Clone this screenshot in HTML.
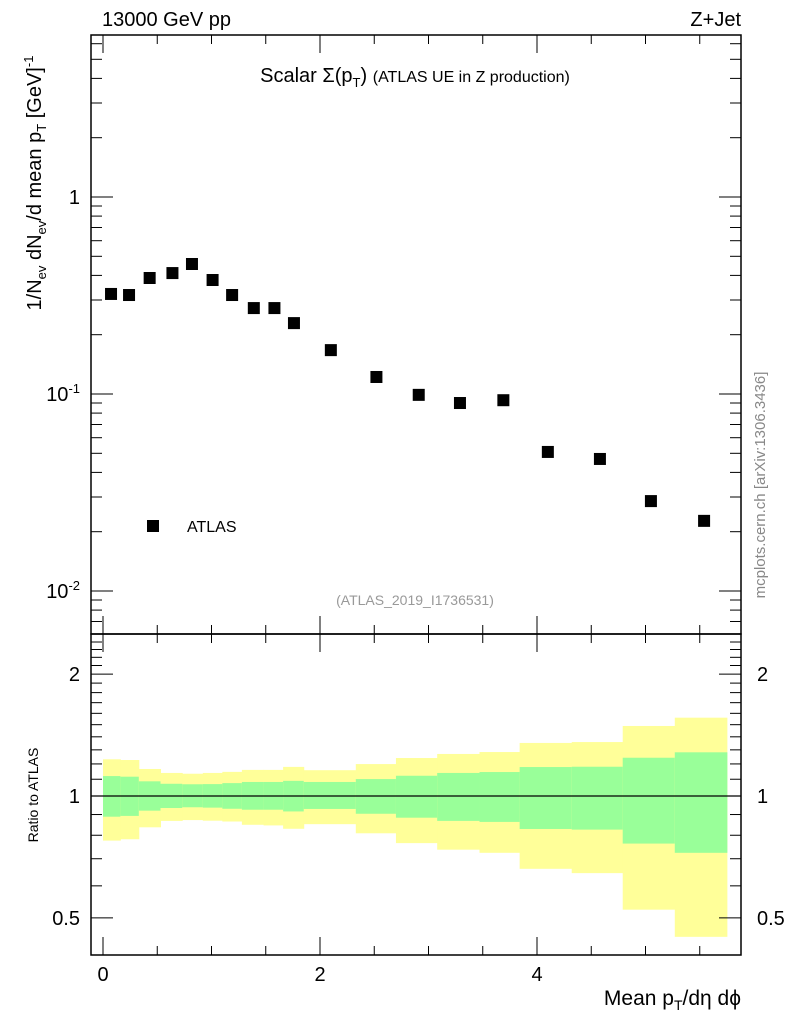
<!DOCTYPE html>
<html><head><meta charset="utf-8"><style>
body{margin:0;background:#fff;}
svg{font-family:"Liberation Sans",sans-serif;}
</style></head><body>
<svg id="chart" width="786" height="1024" xmlns="http://www.w3.org/2000/svg">
<g id="bands"></g>
<g id="ticks" stroke="#000" stroke-width="1"></g>
<g id="marks"></g>
<rect x="91" y="35" width="650" height="599" fill="none" stroke="#000" stroke-width="1.5"/>
<rect x="91" y="634" width="650" height="321" fill="none" stroke="#000" stroke-width="1.5"/>
<text x="102" y="26" font-size="20">13000 GeV pp</text>
<text x="741" y="26" font-size="20" text-anchor="end">Z+Jet</text>
<text x="415" y="82" font-size="20" text-anchor="middle">Scalar Σ(p<tspan font-size="13" dy="5">T</tspan><tspan dy="-5">)</tspan> <tspan font-size="16">(ATLAS UE in Z production)</tspan></text>
<text transform="translate(41,183) rotate(-90)" font-size="20" text-anchor="middle">1/N<tspan font-size="13" dy="5">ev</tspan><tspan dy="-5"> dN</tspan><tspan font-size="13" dy="5">ev</tspan><tspan dy="-5">/d mean p</tspan><tspan font-size="13" dy="5">T</tspan><tspan dy="-5">  [GeV]</tspan><tspan font-size="13" dy="-8">-1</tspan></text>
<text transform="translate(38,795) rotate(-90)" font-size="14" text-anchor="middle">Ratio to ATLAS</text>
<text x="741" y="1005" font-size="21" text-anchor="end">Mean p<tspan font-size="14" dy="5">T</tspan><tspan dy="-5">/dη dϕ</tspan></text>
<text transform="translate(765,485) rotate(-90)" font-size="15" fill="#888" text-anchor="middle">mcplots.cern.ch [arXiv:1306.3436]</text>
<text x="415" y="605" font-size="14" fill="#999" text-anchor="middle">(ATLAS_2019_I1736531)</text>
<rect x="147" y="520" width="12" height="12" fill="#000"/>
<text x="187" y="532" font-size="16">ATLAS</text>
<g id="labels" font-size="20"></g>
</svg>
<script>
const xVals=[0.074,0.24,0.43,0.64,0.82,1.01,1.19,1.39,1.58,1.76,2.10,2.52,2.91,3.29,3.69,4.10,4.58,5.05,5.54];
const yVals=[0.322,0.318,0.388,0.411,0.457,0.379,0.318,0.273,0.273,0.229,0.167,0.122,0.099,0.090,0.093,0.0508,0.0468,0.0286,0.0227];
const binEdges=[0,0.16,0.33,0.53,0.73,0.92,1.10,1.28,1.48,1.66,1.85,2.33,2.70,3.08,3.47,3.84,4.32,4.79,5.27,5.75];
const yellowHi=[1.232,1.227,1.166,1.140,1.135,1.140,1.147,1.160,1.160,1.180,1.158,1.199,1.241,1.270,1.284,1.352,1.359,1.489,1.561];
const greenHi=[1.12,1.116,1.087,1.072,1.069,1.070,1.076,1.083,1.083,1.090,1.083,1.101,1.122,1.140,1.146,1.179,1.181,1.243,1.282];
const greenLo=[0.889,0.893,0.920,0.934,0.938,0.936,0.930,0.925,0.925,0.916,0.929,0.904,0.884,0.868,0.863,0.829,0.826,0.763,0.724];
const yellowLo=[0.776,0.782,0.837,0.868,0.872,0.869,0.865,0.849,0.846,0.830,0.852,0.809,0.765,0.737,0.724,0.661,0.645,0.524,0.449];
const xTicks=[0,2,4];
const ratioTicks=[0.5,1,2];
const NS="http://www.w3.org/2000/svg";
const X=v=>103+v*108.5;
const Y=v=>197-Math.log10(v)*197;
const R=v=>796-Math.log10(v)*405;
function el(p,t,a){const e=document.createElementNS(NS,t);for(const k in a)e.setAttribute(k,a[k]);p.appendChild(e);return e;}
const bands=document.getElementById('bands'),ticks=document.getElementById('ticks'),marks=document.getElementById('marks'),labels=document.getElementById('labels');
for(let i=0;i<yellowHi.length;i++){
 const x0=X(binEdges[i]),x1=X(binEdges[i+1]);
 const y=el(bands,'rect',{x:x0,y:R(yellowHi[i]),width:x1-x0+0.5,height:R(yellowLo[i])-R(yellowHi[i]),fill:'#ffff99'});
 
 
 const g=el(bands,'rect',{x:x0,y:R(greenHi[i]),width:x1-x0+0.5,height:R(greenLo[i])-R(greenHi[i]),fill:'#99ff99'});
 
 
}
const ref=el(bands,'line',{x1:91,x2:741,y1:R(1),y2:R(1),stroke:'#000','stroke-width':1.2});


for(let i=0;i<xVals.length;i++){
 const m=el(marks,'rect',{x:X(xVals[i])-6,y:Y(yVals[i])-6,width:12,height:12,fill:'#000'});
 
 
}
for(let v=0;v<=6.01;v+=0.5){
 const x=X(v); if(x>741)break;
 const major=Math.abs(v-Math.round(v/2)*2)<1e-6; const L=major?18:9;
 el(ticks,'line',{x1:x,x2:x,y1:634,y2:634-L});
 el(ticks,'line',{x1:x,x2:x,y1:35,y2:35+L});
 el(ticks,'line',{x1:x,x2:x,y1:955,y2:955-L});
 el(ticks,'line',{x1:x,x2:x,y1:634,y2:634+L});
}
xTicks.forEach(v=>{const t=el(labels,'text',{x:X(v),y:981,'text-anchor':'middle'});t.textContent=v;
 
 });
for(let d=-3;d<=1;d++)for(let k=1;k<=9;k++){
 const v=k*Math.pow(10,d),y=Y(v); if(y<35||y>634)continue;
 const L=k==1?22:11;
 el(ticks,'line',{x1:91,x2:91+L,y1:y,y2:y});
 el(ticks,'line',{x1:741,x2:741-L,y1:y,y2:y});
}
[["1",1],["10","0.1","-1"],["10","0.01","-2"]].forEach(a=>{
 const v=a.length==2?a[1]:parseFloat(a[1]);
 const t=el(labels,'text',{x:80,y:Y(v)+7,'text-anchor':'end'});
 if(a.length==2)t.textContent=a[0];else{t.textContent=a[0];const s=el(t,'tspan',{'font-size':13,dy:-8});s.textContent=a[2];}
 
 
});
for(let v=0.4;v<=2.45;v+=0.1){
 const y=R(v); if(y<634||y>955)continue;
 const major=[0.5,1,2].some(m=>Math.abs(m-v)<1e-6); const L=major?22:11;
 el(ticks,'line',{x1:91,x2:91+L,y1:y,y2:y});
 el(ticks,'line',{x1:741,x2:741-L,y1:y,y2:y});
}
ratioTicks.forEach(v=>{
 const t=el(labels,'text',{x:80,y:R(v)+7,'text-anchor':'end'});t.textContent=v;
 
 
 const t2=el(labels,'text',{x:757,y:R(v)+7});t2.textContent=v;
 
 
});
</script>
</body></html>
